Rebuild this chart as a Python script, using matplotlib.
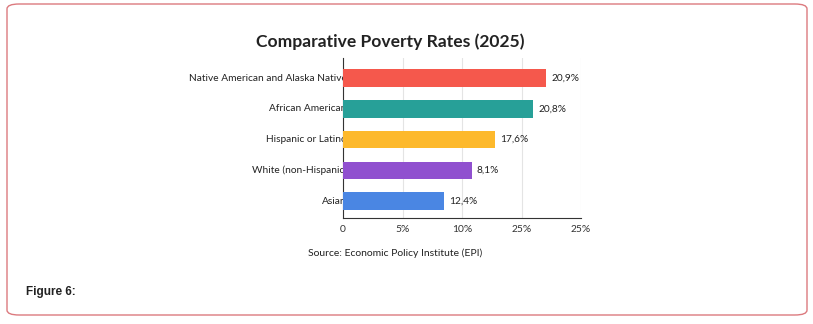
import matplotlib
matplotlib.use("Agg")
import matplotlib.pyplot as plt
from matplotlib.patches import FancyBboxPatch, Rectangle

# data (bar lengths on the axis scale, printed labels separately)
groups = ["Native American and Alaska Native", "African American", "Hispanic or Latino",
          "White (non-Hispanic)", "Asian"]
bar_len = [17.1, 16.0, 12.8, 10.8, 8.5]
value_labels = ["20,9%", "20,8%", "17,6%", "8,1%", "12,4%"]
colors = ["#f5584c", "#27a098", "#fdb92c", "#9050cf", "#4a86e3"]
xticks = [0, 5, 10, 15, 20]
xtick_labels = ["0", "5%", "10%", "25%", "25%"]

fig = plt.figure(figsize=(8.13, 3.24), dpi=100)
fig.patch.set_facecolor("white")

# rounded frame round the whole figure
frame = FancyBboxPatch((7 / 813, 1 - 315 / 324), 800 / 813, 311 / 324,
                       boxstyle="round,pad=0,rounding_size=0.015",
                       transform=fig.transFigure, fill=False,
                       edgecolor="#dc7a7f", linewidth=1.0)
fig.patches.append(frame)

ax = fig.add_axes([343 / 813, 1 - 218 / 324, 238 / 813, 160 / 324])
ypos = list(range(len(groups)))
ax.barh(ypos, bar_len, height=0.57, color=colors, zorder=3)

ax.set_xlim(0, 20)
ax.set_ylim(4.55, -0.65)
ax.set_xticks(xticks)
ax.set_xticklabels(xtick_labels, fontsize=7.4, color="#333333", family="Lato")
ax.set_yticks([])
ax.tick_params(axis="x", length=0, pad=5)
ax.grid(axis="x", color="#e4e4e4", linewidth=0.8, zorder=0)
for s in ["top", "right"]:
    ax.spines[s].set_visible(False)
ax.spines["left"].set_color("#333333")
ax.spines["bottom"].set_color("#333333")
ax.spines["left"].set_linewidth(0.8)
ax.spines["bottom"].set_linewidth(0.8)

# group names, cut off where the axis starts
clip = Rectangle((0, 0), 343 / 813, 1, transform=fig.transFigure)
for y, name in zip(ypos, groups):
    t = ax.text(0.32, y, name, ha="right", va="center", fontsize=7.3,
                color="#222222", family="Lato", zorder=1)
    t.set_clip_path(clip)

for y, v, lab in zip(ypos, bar_len, value_labels):
    ax.annotate(lab, xy=(v, y), xytext=(3.5, 0), textcoords="offset points",
                ha="left", va="center", fontsize=7.3, color="#222222", family="Lato")

fig.text(0.48, 1 - 42 / 324, "Comparative Poverty Rates (2025)", ha="center", va="center",
         fontsize=12.6, fontweight="bold", color="#222222", family="Lato")
fig.text(0.486, 1 - 253 / 324, "Source: Economic Policy Institute (EPI)", ha="center",
         va="center", fontsize=7.5, color="#222222", family="Lato")
fig.text(26 / 813, 1 - 292 / 324, "Figure 6:", ha="left", va="center",
         fontsize=8.5, fontweight="bold", color="#222222", family="Liberation Sans")

fig.savefig("out.png", dpi=100)
